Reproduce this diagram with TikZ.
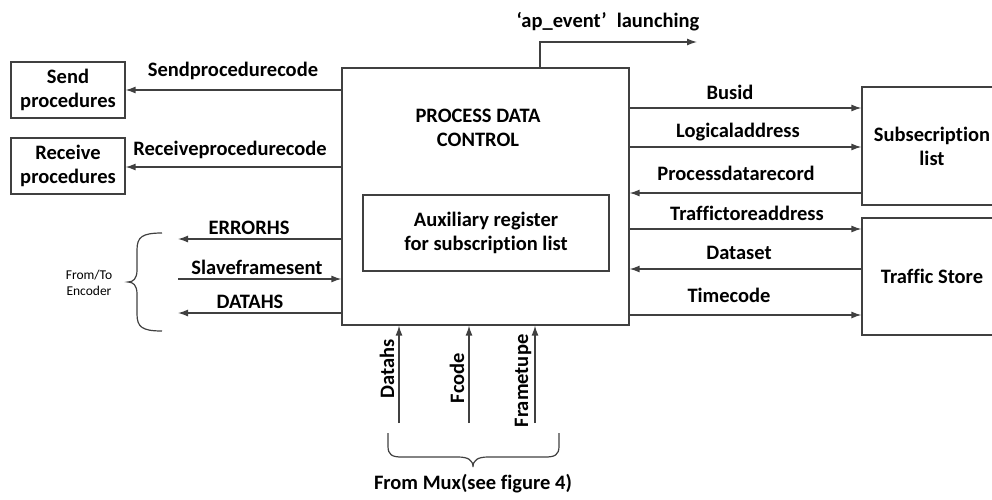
\documentclass[tikz,border=0pt]{standalone}
\usepackage{fontspec}
\setmainfont[Ligatures=NoCommon]{Carlito}
\usetikzlibrary{arrows.meta}
\definecolor{ln}{HTML}{404040}
\tikzset{
  box/.style={draw=ln, line width=1.2pt, fill=white, align=center, font=\bfseries\fontsize{20.5}{24}\selectfont, inner sep=0pt},
  lbl/.style={font=\bfseries\fontsize{20.5}{24}\selectfont, inner sep=0pt, anchor=center},
  arr/.style={draw=ln, line width=1.3pt, -{Latex[length=10pt,width=7pt]}},
  brc/.style={draw=ln, line width=1.2pt}
}
\begin{document}
\begin{tikzpicture}[x=1pt,y=-1pt]
\useasboundingbox (0,0) rectangle (992,499);
% boxes
\node[box, minimum width=287pt, minimum height=257pt] (main) at (485.5,196.5) {};
\node[lbl, align=center] (pdc) at (478,128) {PROCESS DATA\\CONTROL};
\node[box, minimum width=246pt, minimum height=76pt] (aux) at (486,233) {Auxiliary register\\for subscription list};
\node[box, minimum width=114pt, minimum height=56pt] (send) at (68,90) {Send\\procedures};
\node[box, minimum width=114pt, minimum height=56pt] (recv) at (68,166) {Receive\\procedures};
\node[box, minimum width=140pt, minimum height=118pt] (sub) at (932,146) {Subsecription\\list};
\node[box, minimum width=140pt, minimum height=117pt] (ts) at (932,276.5) {Traffic Store};
% top
\coordinate (ap) at (697,42);
\draw[arr] (main.north -| 540,0) |- (ap);
\node[lbl] (apl) at (608,22) {‘ap\_event’\hspace{0.5em}launching};
% left procedures
\draw[arr] (main.west |- send.east) -- (send.east);
\node[lbl] (spc) at (233,71) {Sendprocedurecode};
\draw[arr] (main.west |- 0,167) -- (recv.east |- 0,167);
\node[lbl] (rpc) at (230,150) {Receiveprocedurecode};
% encoder
\coordinate (e1) at (178,239);
\coordinate (e2) at (178,279);
\coordinate (e3) at (178,313);
\draw[arr] (main.west |- e1) -- (e1);
\draw[arr] (e2) -- (main.west |- e2);
\draw[arr] (main.west |- e3) -- (e3);
\node[lbl] (err) at (249,228) {ERRORHS};
\node[lbl] (sfs) at (257,267) {Slaveframesent};
\node[lbl] (dhs) at (250,302) {DATAHS};
\draw[brc] (162,233) .. controls (142,233) and (137,237) .. (137,250) -- (137,270)
  .. controls (137,279) and (133,282) .. (128,282)
  .. controls (133,282) and (137,285) .. (137,294) -- (137,314)
  .. controls (137,327) and (142,331) .. (162,331);
\node[font=\fontsize{13.5}{16}\selectfont, align=center, inner sep=0pt] (enc) at (89,283) {From/To\\Encoder};
% right side
\draw[arr] (main.east |- 0,108) -- (sub.west |- 0,108);
\node[lbl] (bus) at (730,92) {Busid};
\draw[arr] (main.east |- 0,147) -- (sub.west |- 0,147);
\node[lbl] (lga) at (738,132) {Logicaladdress};
\draw[arr] (sub.west |- 0,193) -- (main.east |- 0,193);
\node[lbl] (pdr) at (736,173) {Processdatarecord};
\draw[arr] (main.east |- 0,229) -- (ts.west |- 0,229);
\node[lbl] (tta) at (747,213) {Traffictoreaddress};
\draw[arr] (ts.west |- 0,269) -- (main.east |- 0,269);
\node[lbl] (dst) at (739,253) {Dataset};
\draw[arr] (main.east |- 0,315) -- (ts.west |- 0,315);
\node[lbl] (tcd) at (729,295) {Timecode};
% bottom
\coordinate (b1) at (399,423);
\coordinate (b2) at (469,423);
\coordinate (b3) at (535,423);
\draw[arr] (b1) -- (b1 |- main.south);
\draw[arr] (b2) -- (b2 |- main.south);
\draw[arr] (b3) -- (b3 |- main.south);
\node[lbl, rotate=90] (dl) at (387,369) {Datahs};
\node[lbl, rotate=90] (fl) at (457,378) {Fcode};
\node[lbl, rotate=90] (frl) at (523,381) {Frametupe};
\draw[brc] (388,433) -- (388,446) .. controls (388,455) and (392,457) .. (402,457) -- (458,457)
  .. controls (468,457) and (473,460) .. (473,467)
  .. controls (473,460) and (478,457) .. (488,457) -- (545,457)
  .. controls (555,457) and (559,455) .. (559,446) -- (559,433);
\node[lbl] (mux) at (473,484) {From Mux(see figure 4)};
\end{tikzpicture}
\end{document}
